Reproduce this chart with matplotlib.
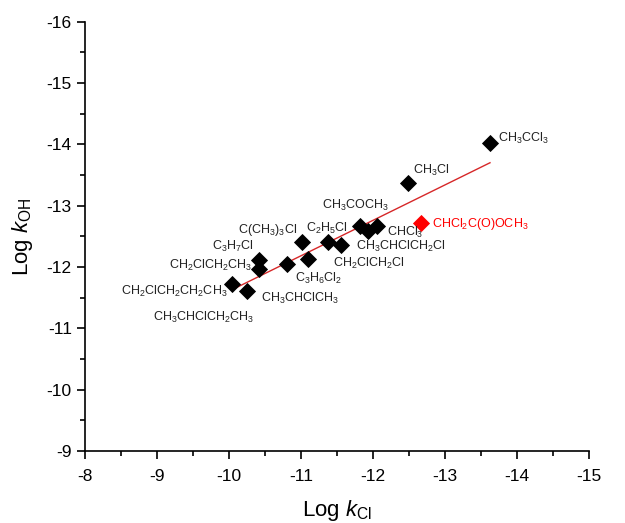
import matplotlib
matplotlib.use("Agg")
import matplotlib.pyplot as plt
from matplotlib.ticker import MultipleLocator, FuncFormatter

plt.rcParams['font.family'] = ['Liberation Sans', 'DejaVu Sans']
plt.rcParams['mathtext.fontset'] = 'custom'
plt.rcParams['mathtext.rm'] = 'Liberation Sans'
plt.rcParams['mathtext.it'] = 'Liberation Sans:italic'
plt.rcParams['mathtext.bf'] = 'Liberation Sans:bold'

# Data (log k_Cl, log k_OH)
log_kcl = [-13.62, -12.49, -11.82, -11.93, -12.05, -11.38, -11.55, -11.01,
           -11.10, -10.81, -10.42, -10.41, -10.04, -10.25]
log_koh = [-14.03, -13.37, -12.67, -12.58, -12.67, -12.40, -12.36, -12.40,
           -12.13, -12.05, -12.12, -11.96, -11.72, -11.61]

red_kcl = [-12.67]
red_koh = [-12.71]

fit_x = [-10.06, -13.625]
fit_y = [-11.64, -13.70]

label_texts = ['CH$_3$CCl$_3$', 'CH$_3$Cl', 'CH$_3$COCH$_3$', 'CHCl$_3$',
               'CH$_3$CHClCH$_2$Cl', 'CH$_2$ClCH$_2$Cl', 'C$_2$H$_5$Cl',
               'C(CH$_3$)$_3$Cl', 'C$_3$H$_7$Cl', 'CH$_2$ClCH$_2$CH$_3$',
               'C$_3$H$_6$Cl$_2$', 'CH$_2$ClCH$_2$CH$_2$CH$_3$',
               'CH$_3$CHClCH$_3$', 'CH$_3$CHClCH$_2$CH$_3$']
label_x = [-13.73, -12.55, -11.29, -12.20, -11.76, -11.44, -11.07,
           -10.13, -9.77, -9.16, -10.91, -8.50, -10.45, -8.94]
label_y = [-14.10, -13.58, -13.01, -12.56, -12.33, -12.06, -12.63,
           -12.60, -12.33, -12.03, -11.82, -11.60, -11.48, -11.18]

red_label = 'CHCl$_2$C(O)OCH$_3$'
red_label_xy = (-12.82, -12.70)

fig = plt.figure(figsize=(6.25, 5.23), dpi=100)
ax = fig.add_axes([0.136, 0.1377, 0.8064, 0.8208])

ax.plot(fit_x, fit_y, color='#d62728', lw=1.0, zorder=2)
ax.plot(log_kcl, log_koh, 'D', color='black', markersize=8,
        markeredgewidth=0.6, zorder=3)
ax.plot(red_kcl, red_koh, 'D', color='#ff0000', markersize=8,
        markeredgewidth=0.6, zorder=3)

for t, x, y in zip(label_texts, label_x, label_y):
    ax.text(x, y, t, ha='left', va='center', fontsize=9, color='#222222')
ax.text(red_label_xy[0], red_label_xy[1], red_label, ha='left', va='center',
        fontsize=9, color='#ff0000')

ax.set_xlim(-8, -15)
ax.set_ylim(-9, -16)
ax.xaxis.set_major_locator(MultipleLocator(1))
ax.xaxis.set_minor_locator(MultipleLocator(0.5))
ax.yaxis.set_major_locator(MultipleLocator(1))
ax.yaxis.set_minor_locator(MultipleLocator(0.5))
ax.tick_params(which='major', direction='out', length=6, width=1.2, labelsize=12.5)
ax.tick_params(which='minor', direction='out', length=3.5, width=1.2)
ax.tick_params(axis='x', which='major', pad=7)
fmt = FuncFormatter(lambda v, p: f"{int(round(v))}")
ax.xaxis.set_major_formatter(fmt)
ax.yaxis.set_major_formatter(fmt)
for s in ['top', 'right']:
    ax.spines[s].set_visible(False)
for s in ['left', 'bottom']:
    ax.spines[s].set_linewidth(1.2)

ax.set_xlabel('Log $k_{\\mathrm{Cl}}$', fontsize=16, labelpad=10)
ax.set_ylabel('Log $k_{\\mathrm{OH}}$', fontsize=16, labelpad=8)

fig.savefig('out.png', dpi=100)
